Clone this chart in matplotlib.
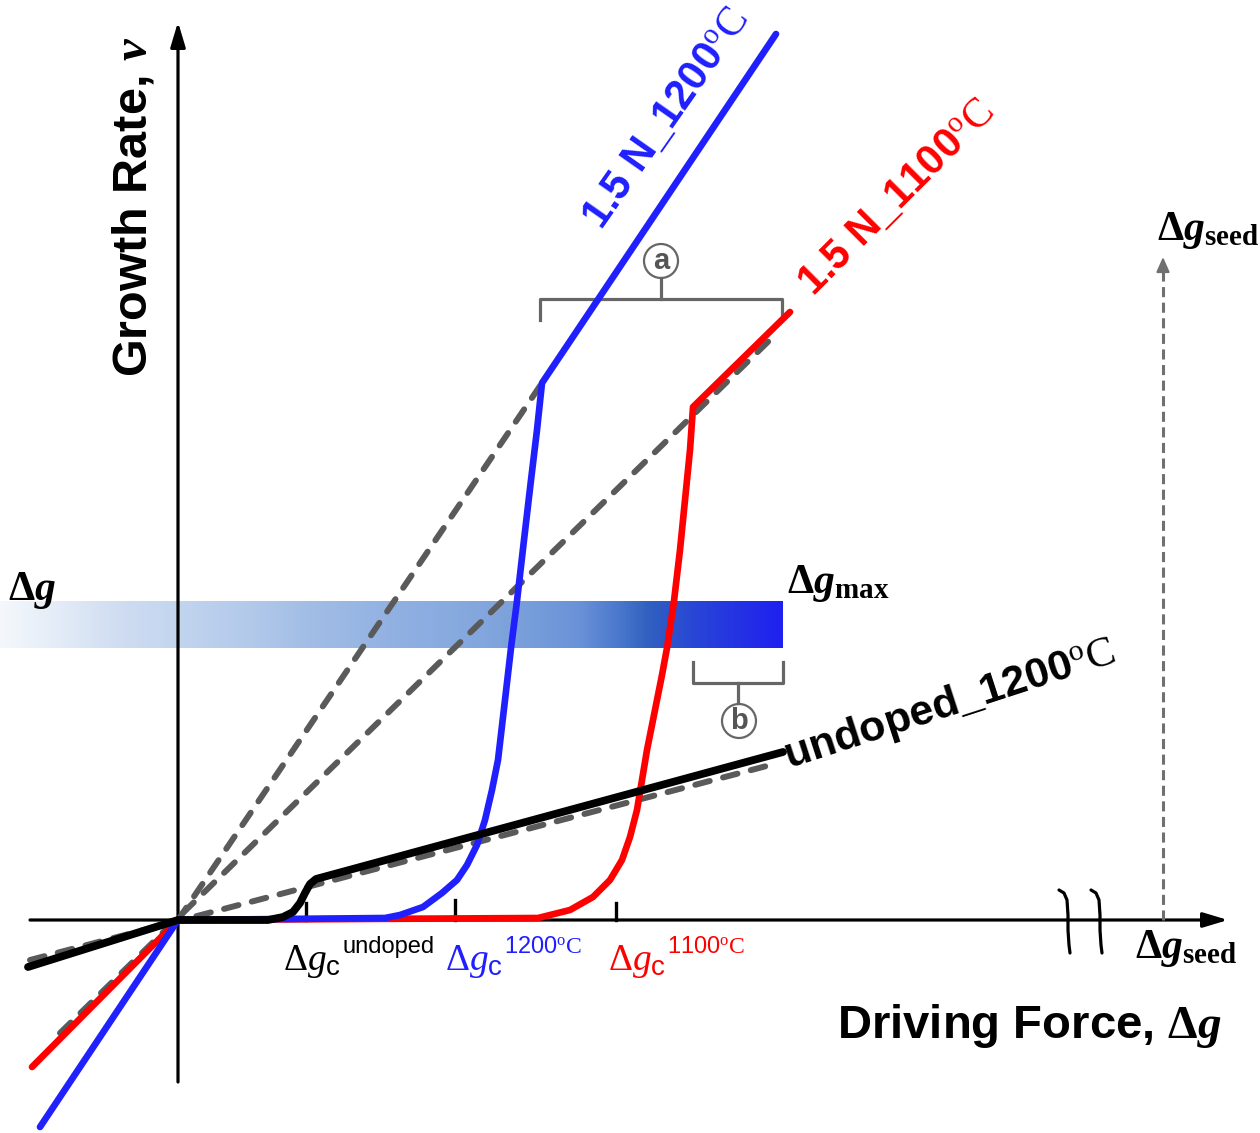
import numpy as np
import matplotlib.pyplot as plt
from matplotlib.colors import LinearSegmentedColormap
from matplotlib.patches import Circle

# schematic units: offsets from the axes origin (x = driving force, y = growth rate)

# ==============================
# data read off the schematic
# ==============================
blue_x = [-138, 0, 207, 222, 245, 264, 279, 289, 299, 307, 314, 320,
          327, 333, 339, 346, 353, 359, 364, 598]
blue_y = [-207, 0, 2, 5, 13, 27, 40, 55, 75, 100, 130, 160,
          220, 272, 319, 380, 440, 490, 537, 886]

red_x = [-146, 0, 360, 372, 392, 415, 432, 444, 452, 459, 464, 469,
         479, 484, 489, 496, 502, 508, 512, 515, 612]
red_y = [-147, 0, 2, 5, 10, 23, 40, 60, 83, 110, 140, 170,
         220, 245, 272, 319, 370, 430, 470, 513, 608]

undoped_x = [-150, 0, 90, 105, 115, 122, 127, 132, 138, 605]
undoped_y = [-47, 0, 0, 3, 8, 17, 27, 36, 41, 168]

# dashed linear guides (1200C, 1100C, undoped)
guide_x = [[0, 364], [-118, 599], [-148, 600]]
guide_y = [[0, 537], [-113, 587], [-40, 157]]

# critical driving forces on the x axis
dgc_x = [128, 277, 438]
dgc_h = [17, 20, 17]
dgc_sup = ['undoped', r'1200$^{\mathrm{o}}\mathrm{C}$', r'1100$^{\mathrm{o}}\mathrm{C}$']
dgc_colors = ['black', '#1f1fff', '#ff0000']
dgc_text_x = [105, 267, 430]

# driving force distribution band
band_x = [-178, 605]
band_y = [272, 319]
band_stops = [0, 60, 120, 178, 250, 300, 400, 500, 580, 620, 650, 700, 783]
band_colors = ['#f4f8fc', '#e2ebf7', '#cfdcf1', '#c2d5ef', '#b2c9ea', '#a4bfe6',
               '#90b0e2', '#7fa4dc', '#6a92d8', '#4a78cc', '#3060c0', '#2844d8', '#2020f0']

seed_x = 985
seed_top = 663

# axis break marks
break_x = [889, 921]
break_dx = [-8, -3, 0, 1, 1, 2, 3]
break_dy = [30, 27, 20, 5, -10, -25, -33]

# ==============================
# figure
# ==============================
plt.rcParams['font.family'] = 'Liberation Sans'
plt.rcParams['mathtext.fontset'] = 'custom'
plt.rcParams['mathtext.rm'] = 'Liberation Serif'
plt.rcParams['mathtext.it'] = 'Liberation Serif:italic'
plt.rcParams['mathtext.bf'] = 'Liberation Serif:bold'
plt.rcParams['mathtext.bfit'] = 'Liberation Serif:italic:bold'
plt.rcParams['mathtext.sf'] = 'Liberation Sans'

fig = plt.figure(figsize=(12.6, 11.33), dpi=100)
ax = fig.add_axes([0, 0, 1, 1])
ax.axis('off')

# gradient band
cmap = LinearSegmentedColormap.from_list(
    'band', list(zip(np.array(band_stops) / band_stops[-1], band_colors)))
grad = np.linspace(0, 1, 512).reshape(1, -1)
ax.imshow(grad, extent=[band_x[0], band_x[1], band_y[0], band_y[1]],
          aspect='auto', cmap=cmap, zorder=1, interpolation='bilinear')

# axes with arrows
ax.annotate('', xy=(1050, 0), xytext=(-148, 0),
            arrowprops=dict(arrowstyle='-|>,head_length=1.5,head_width=0.45',
                            color='black', lw=2.3, shrinkA=0, shrinkB=0), zorder=2)
ax.annotate('', xy=(0, 898), xytext=(0, -162),
            arrowprops=dict(arrowstyle='-|>,head_length=1.5,head_width=0.45',
                            color='black', lw=2.3, shrinkA=0, shrinkB=0), zorder=2)

for bx in break_x:
    ax.plot([bx + d for d in break_dx], break_dy, color='black', lw=2.3,
            solid_capstyle='round', zorder=2)

# dashed guides
for gx, gy in zip(guide_x, guide_y):
    ax.plot(gx, gy, color='#5a5a5a', lw=4.3, dashes=(2.5, 2.3),
            dash_capstyle='round', zorder=3)

# growth curves
ax.plot(red_x, red_y, color='#ff0000', lw=4.8, solid_capstyle='round',
        solid_joinstyle='round', zorder=4)
ax.plot(blue_x, blue_y, color='#2020ff', lw=4.8, solid_capstyle='round',
        solid_joinstyle='round', zorder=5)
ax.plot(undoped_x, undoped_y, color='black', lw=5.6, solid_capstyle='round',
        solid_joinstyle='round', zorder=6)

# ticks for critical driving forces
for tx, th in zip(dgc_x, dgc_h):
    ax.plot([tx, tx], [0, th], color='black', lw=2.4, zorder=3)

# seed arrow
ax.plot([seed_x, seed_x], [0, seed_top - 14], color='#707070', lw=2.2,
        dashes=(3.3, 1.8), zorder=3)
ax.annotate('', xy=(seed_x, seed_top), xytext=(seed_x, seed_top - 16),
            arrowprops=dict(arrowstyle='-|>,head_length=0.9,head_width=0.4',
                            color='#707070', lw=1.5, shrinkA=0, shrinkB=0), zorder=3)

# brackets (a) and (b)
gray = '#666666'
ax.plot([362, 362, 604, 604], [600, 621, 621, 600], color=gray, lw=2.3, zorder=3)
ax.plot([483, 483], [621, 642], color=gray, lw=2.3, zorder=3)
ax.add_patch(Circle((483, 659), 17, fill=False, ec=gray, lw=1.6, zorder=3))
ax.text(483, 651, 'a', fontsize=21, fontweight='bold', color='#555555',
        ha='center', va='baseline', zorder=4)

ax.plot([515, 515, 605, 605], [258, 237, 237, 258], color=gray, lw=2.3, zorder=3)
ax.plot([560, 560], [237, 217], color=gray, lw=2.3, zorder=3)
ax.add_patch(Circle((561, 199), 17, fill=False, ec=gray, lw=1.6, zorder=3))
ax.text(561, 191, 'b', fontsize=21, fontweight='bold', color='#555555',
        ha='center', va='baseline', zorder=4)

# critical driving force labels
for lx, sup, col in zip(dgc_text_x, dgc_sup, dgc_colors):
    ax.text(lx, -50, r'$\Delta g$', fontsize=27, color=col, ha='left', va='baseline')
    ax.text(lx + 43, -55, 'c', fontsize=20, color=col, ha='left', va='baseline')
    ax.text(lx + 59, -33, sup, fontsize=17, color=col, ha='left', va='baseline')

# delta g labels
ax.text(-170, 320, r'$\mathbf{\Delta}\mathbfit{g}$', fontsize=30, ha='left', va='baseline')
ax.text(609, 327, r'$\mathbf{\Delta}\mathbfit{g}_{\mathbf{max}}$', fontsize=30,
        ha='left', va='baseline')
ax.text(979, 680, r'$\mathbf{\Delta}\mathbfit{g}_{\mathbf{seed}}$', fontsize=30,
        ha='left', va='baseline')
ax.text(957, -38, r'$\mathbf{\Delta}\mathbfit{g}_{\mathbf{seed}}$', fontsize=30,
        ha='left', va='baseline')

# curve labels
ax.text(488, 801, r'1.5 N_1200$^{\mathrm{o}}\mathrm{C}$', fontsize=30, fontweight='bold',
        color='#1f1fff', rotation=55, rotation_mode='anchor', ha='center', va='center')
ax.text(719, 722, r'1.5 N_1100$^{\mathrm{o}}\mathrm{C}$', fontsize=30, fontweight='bold',
        color='#ff0000', rotation=45, rotation_mode='anchor', ha='center', va='center')
ax.text(772, 215, r'undoped_1200$^{\mathrm{o}}\mathrm{C}$', fontsize=31, fontweight='bold',
        color='black', rotation=18, rotation_mode='anchor', ha='center', va='center')

# axis titles
ax.text(-45, 543, r'Growth Rate, $\mathbfit{v}$', fontsize=35, fontweight='bold',
        rotation=90, ha='center', va='bottom')
ax.text(1044, -118, r'Driving Force, $\mathbf{\Delta}\mathbfit{g}$', fontsize=34,
        fontweight='bold', ha='right', va='baseline')

ax.set_xlim(-178, 1082)
ax.set_ylim(-213, 920)

fig.savefig('out.png', dpi=100, facecolor='white')
